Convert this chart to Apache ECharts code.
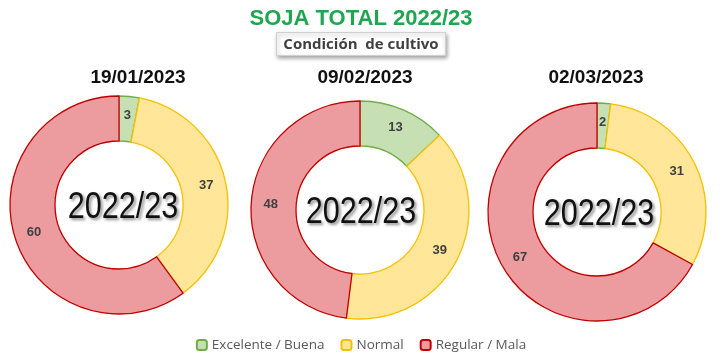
<!DOCTYPE html>
<html><head><meta charset="utf-8">
<script src="https://cdn.jsdelivr.net/npm/echarts@6/dist/echarts.min.js"></script>
<style>html,body{margin:0;padding:0;background:#fff}#c{width:722px;height:361px}</style>
</head><body><div id="c"></div>
<script>
const categories = ['Excelente / Buena', 'Normal', 'Regular / Mala'];
const dates = ['19/01/2023', '09/02/2023', '02/03/2023'];
const values1 = [3, 37, 60];
const values2 = [13, 39, 48];
const values3 = [2, 31, 67];
const centerLabel = '2022/23';

const fills = ['#c6e0b4', '#ffe699', '#ec9c9f'];
const borders = ['#70ad47', '#f5c000', '#c00000'];
const centers = [[119, 205], [360, 210], [597, 212]];
const textX = [123, 361, 599];
const dateX = [138, 365, 596];
const allValues = [values1, values2, values3];

const series = allValues.map((vals, i) => ({
  type: 'pie',
  center: centers[i],
  radius: [64, 109],
  startAngle: 90,
  clockwise: true,
  avoidLabelOverlap: false,
  silent: true,
  label: { show: true, position: 'inside', formatter: '{c}', color: '#404040', fontSize: 13, fontWeight: 'bold', fontFamily: 'Liberation Sans' },
  labelLine: { show: false },
  data: vals.map((v, k) => ({ name: categories[k], value: v, itemStyle: { color: fills[k], borderColor: borders[k], borderWidth: 1.3 } }))
}));

const titles = [
  { text: 'SOJA TOTAL 2022/23', left: 'center', top: 3, textStyle: { color: '#1ea650', fontSize: 22, fontWeight: 'bold', fontFamily: 'Liberation Sans' } },
  { text: 'Condición  de cultivo', left: 'center', top: 32, padding: [5, 7, 4, 7], backgroundColor: '#fff', borderColor: '#d0d0d0', borderWidth: 1, shadowColor: 'rgba(0,0,0,0.35)', shadowBlur: 4, shadowOffsetY: 2, shadowOffsetX: 1, textStyle: { color: '#404040', fontSize: 15, fontWeight: 'bold', fontFamily: 'Open Sans' } }
];

const graphics = centers.map((c, i) => ({
  type: 'text', x: textX[i], y: c[1] + 3, scaleX: 0.85,
  style: { text: centerLabel, fill: '#111', font: '36px "Liberation Sans"', textAlign: 'center', textVerticalAlign: 'middle', textShadowColor: 'rgba(0,0,0,0.45)', textShadowBlur: 3, textShadowOffsetX: 2, textShadowOffsetY: 2 }
}));
dates.forEach((d, i) => graphics.push({
  type: 'text', x: dateX[i], y: 78,
  style: { text: d, fill: '#111', font: 'bold 19px "Liberation Sans"', textAlign: 'center', textVerticalAlign: 'middle' }
}));

const chart = echarts.init(document.getElementById('c'), null, { renderer: 'canvas' });
chart.setOption({
  animation: false,
  title: titles,
  legend: {
    data: categories, bottom: 4, left: 'center', itemWidth: 10, itemHeight: 10, itemGap: 16,
    textStyle: { color: '#595959', fontSize: 13.5, fontFamily: 'Open Sans' }
  },
  graphic: graphics,
  series: series
});
</script></body></html>
